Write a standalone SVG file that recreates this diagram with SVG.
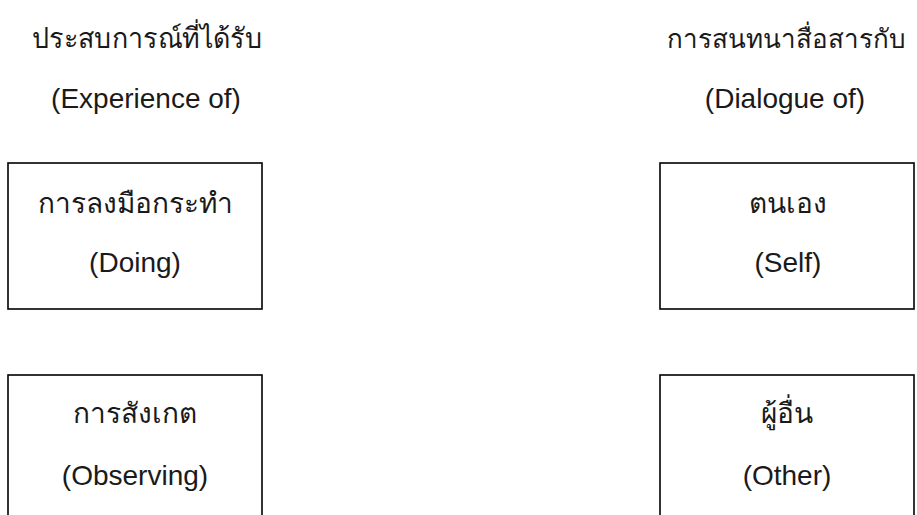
<svg xmlns="http://www.w3.org/2000/svg" width="917" height="515" viewBox="0 0 917 515">
<style>
.box{fill:#fff;stroke:#000;stroke-width:1.6}
.t{font-family:"Liberation Sans",Arial,sans-serif;font-size:28px;fill:#1a1a1a;text-anchor:middle}
</style>
<rect width="917" height="515" fill="#fff"/>
<g id="title-left">
<text class="t" x="147" y="48" textLength="230" lengthAdjust="spacingAndGlyphs">ประสบการณ์ที่ได้รับ</text>
<text class="t" x="146" y="108">(Experience of)</text>
</g>
<g id="title-right">
<text class="t" x="786" y="48" style="font-size:26px">การสนทนาสื่อสารกับ</text>
<text class="t" x="785" y="108">(Dialogue of)</text>
</g>
<g id="node-doing">
<rect class="box" x="8" y="163" width="254" height="146"/>
<text class="t" x="135" y="213">การลงมือกระทำ</text>
<text class="t" x="135" y="272">(Doing)</text>
</g>
<g id="node-observing">
<rect class="box" x="8" y="375" width="254" height="160"/>
<text class="t" x="135" y="423">การสังเกต</text>
<text class="t" x="135" y="485">(Observing)</text>
</g>
<g id="node-self">
<rect class="box" x="660" y="163" width="254" height="146"/>
<text class="t" x="788" y="213">ตนเอง</text>
<text class="t" x="788" y="272">(Self)</text>
</g>
<g id="node-other">
<rect class="box" x="660" y="375" width="254" height="160"/>
<text class="t" x="787" y="423">ผู้อื่น</text>
<text class="t" x="787" y="485">(Other)</text>
</g>
<g id="connectors"></g>
</svg>
